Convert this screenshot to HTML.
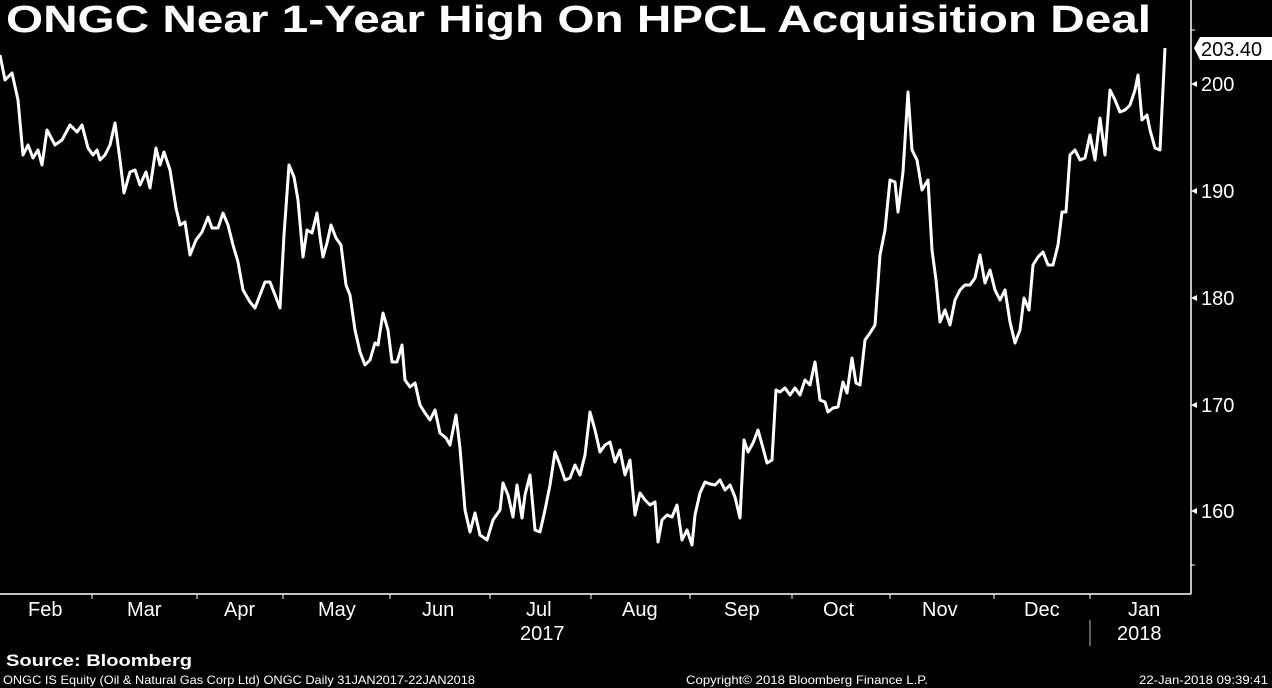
<!DOCTYPE html>
<html><head><meta charset="utf-8"><style>
html,body{margin:0;padding:0;background:#000;width:1272px;height:688px;overflow:hidden}
svg{display:block}
text{font-family:"Liberation Sans","DejaVu Sans",sans-serif;fill:#fff}
</style></head><body>
<svg width="1272" height="688" viewBox="0 0 1272 688">
<rect width="1272" height="688" fill="#000"/>
<text x="6" y="32" font-size="38" font-weight="bold" textLength="1145" lengthAdjust="spacingAndGlyphs">ONGC Near 1-Year High On HPCL Acquisition Deal</text>
<line x1="1191" y1="0" x2="1191" y2="594" stroke="#fff" stroke-width="1.5"/>
<line x1="0" y1="594" x2="1191" y2="594" stroke="#fff" stroke-width="1.5"/>
<g stroke="#fff" stroke-width="1">
<line x1="92" y1="594" x2="92" y2="599"/><line x1="197" y1="594" x2="197" y2="599"/>
<line x1="283" y1="594" x2="283" y2="599"/><line x1="390" y1="594" x2="390" y2="599"/>
<line x1="490" y1="594" x2="490" y2="599"/><line x1="591" y1="594" x2="591" y2="599"/>
<line x1="690" y1="594" x2="690" y2="599"/><line x1="792" y1="594" x2="792" y2="599"/>
<line x1="890" y1="594" x2="890" y2="599"/><line x1="994" y1="594" x2="994" y2="599"/>
<line x1="1090" y1="594" x2="1090" y2="599"/>
<line x1="1090" y1="620" x2="1090" y2="646" stroke="#bbb"/>
<line x1="1191" y1="30" x2="1195" y2="30"/>
</g>
<g font-size="20">
<text x="28" y="616">Feb</text><text x="127" y="616">Mar</text><text x="224" y="616">Apr</text>
<text x="318" y="616">May</text><text x="422" y="616">Jun</text><text x="526" y="616">Jul</text>
<text x="622" y="616">Aug</text><text x="724" y="616">Sep</text><text x="823" y="616">Oct</text>
<text x="922" y="616">Nov</text><text x="1024" y="616">Dec</text><text x="1128" y="616">Jan</text>
<text x="520" y="640">2017</text><text x="1117" y="640">2018</text>
</g>
<g font-size="20">
<text x="1201" y="91">200</text><text x="1201" y="198">190</text><text x="1201" y="305">180</text>
<text x="1201" y="412">170</text><text x="1201" y="518">160</text>
</g>
<g fill="#fff">
<polygon points="1191,84 1197,81 1197,87"/><polygon points="1191,191 1197,188 1197,194"/>
<polygon points="1191,298 1197,295 1197,301"/><polygon points="1191,405 1197,402 1197,408"/>
<polygon points="1191,511 1197,508 1197,514"/><line x1="1191" y1="565" x2="1195" y2="565" stroke="#fff"/>
<polygon points="1194,48 1200,37 1272,37 1272,60 1200,60"/>
</g>
<text x="1201" y="56" font-size="20" style="fill:#000">203.40</text>
<polyline fill="none" stroke="#fff" stroke-width="3" stroke-linejoin="round" points="0,55 5,80 12,73 18,100 23,155 28,145 33,158 38,150 42,165 47,130 55,145 62,140 70,125 77,132 82,125 88,148 93,155 97,150 100,160 105,155 110,145 115,123 120,160 124,193 130,172 135,170 140,185 146,172 150,188 156,148 160,165 164,152 170,170 176,208 180,225 185,222 190,255 196,240 202,232 208,217 212,228 218,228 223,213 228,225 233,245 238,262 243,290 250,302 255,308 260,295 265,282 270,282 275,295 280,308 284,235 289,165 294,177 298,200 303,257 307,230 312,233 317,213 320,237 323,257 327,243 331,225 336,238 341,245 346,285 350,295 355,330 360,352 365,365 370,360 375,343 378,345 383,313 388,330 392,362 397,362 402,345 405,380 410,387 415,383 420,405 425,413 430,420 435,410 440,433 446,438 450,445 456,415 460,448 465,510 470,532 475,513 480,535 487,540 493,520 500,510 503,483 508,495 513,517 517,485 522,518 525,495 530,475 535,530 540,532 545,510 550,485 555,452 560,465 565,480 570,478 575,465 580,475 585,455 590,412 595,430 600,452 605,445 610,442 615,462 620,450 625,475 630,460 635,515 640,493 645,500 650,505 655,502 658,542 662,520 667,515 672,517 677,505 682,540 687,530 692,545 695,515 700,493 705,482 710,484 715,485 720,480 725,490 730,485 735,497 740,518 744,440 748,452 753,443 758,430 763,448 767,463 772,460 776,390 780,392 785,388 790,395 795,388 800,395 805,380 810,385 815,362 820,400 825,402 828,412 833,408 838,407 843,382 847,393 852,358 856,383 860,385 865,340 870,333 875,325 880,255 885,230 890,180 895,182 898,212 903,172 908,92 912,150 917,160 922,190 928,180 932,250 936,280 940,322 945,310 950,325 955,300 960,290 965,285 970,285 975,278 980,255 985,283 990,270 995,290 1000,300 1005,290 1010,322 1015,343 1020,330 1024,298 1029,310 1033,265 1038,257 1043,252 1048,265 1053,265 1058,245 1062,212 1066,212 1070,155 1075,150 1080,160 1085,158 1090,135 1095,160 1100,118 1105,155 1110,90 1115,100 1120,112 1125,110 1130,105 1135,90 1138,75 1142,120 1147,115 1150,130 1155,148 1160,150 1165,48"/>
<text x="6" y="666" font-size="17" font-weight="bold" textLength="186" lengthAdjust="spacingAndGlyphs">Source: Bloomberg</text>
<text x="3" y="684" font-size="12" textLength="472" lengthAdjust="spacingAndGlyphs">ONGC IS Equity (Oil &amp; Natural Gas Corp Ltd) ONGC  Daily 31JAN2017-22JAN2018</text>
<text x="686" y="684" font-size="12" textLength="242" lengthAdjust="spacingAndGlyphs">Copyright© 2018 Bloomberg Finance L.P.</text>
<text x="1139" y="684" font-size="12" textLength="129" lengthAdjust="spacingAndGlyphs">22-Jan-2018 09:39:41</text>
</svg>
</body></html>
